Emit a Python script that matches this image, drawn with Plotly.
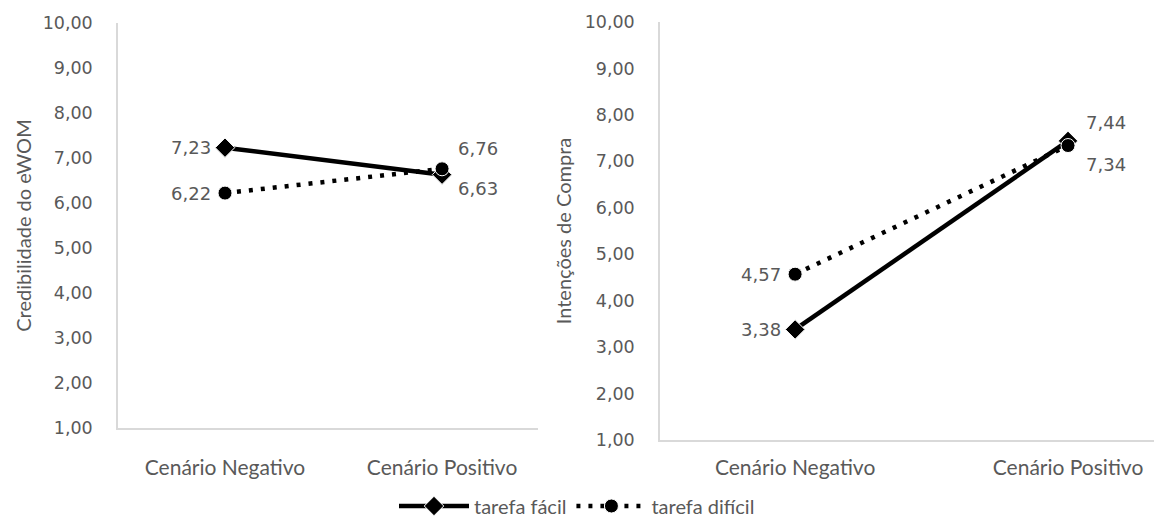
import plotly.graph_objects as go

# Scenario categories shared by both panels
cenarios = ["Cenário Negativo", "Cenário Positivo"]

# Panel 1: credibilidade do eWOM
cred_facil = [7.23, 6.63]
cred_dificil = [6.22, 6.76]

# Panel 2: intenções de compra
compra_facil = [3.38, 7.44]
compra_dificil = [4.57, 7.34]

y_ticks = [1, 2, 3, 4, 5, 6, 7, 8, 9, 10]

GRAY_TEXT = "#595959"
AXIS_LINE = "#d9d9d9"
NUM_FONT = "DejaVu Sans"
TXT_FONT = "Lato"


def fmt(v):
    return f"{v:.2f}".replace(".", ",")


fig = go.Figure()

panels = [
    ("x", "y", cred_facil, cred_dificil),
    ("x2", "y2", compra_facil, compra_dificil),
]

for i, (xa, ya, facil, dificil) in enumerate(panels):
    fig.add_trace(go.Scatter(
        x=cenarios, y=facil, xaxis=xa, yaxis=ya,
        mode="lines+markers", name="tarefa fácil",
        line=dict(color="black", width=4.5),
        marker=dict(symbol="diamond", size=15, color="black",
                    line=dict(color="white", width=1)),
        showlegend=(i == 0), legendgroup="facil",
    ))
    fig.add_trace(go.Scatter(
        x=cenarios, y=dificil, xaxis=xa, yaxis=ya,
        mode="lines+markers", name="tarefa difícil",
        line=dict(color="black", width=4.5, dash="4px,8px"),
        marker=dict(symbol="circle", size=14, color="black",
                    line=dict(color="white", width=1)),
        showlegend=(i == 0), legendgroup="dificil",
    ))

annotations = []


def label(xa, ya, x, y, xanchor, xshift, yshift):
    annotations.append(dict(
        x=x, y=y, xref=xa, yref=ya, text=fmt(y), showarrow=False,
        xanchor=xanchor, yanchor="middle", xshift=xshift, yshift=yshift,
        font=dict(family=NUM_FONT, size=18, color=GRAY_TEXT),
    ))


# Labels for panel 1
label("x", "y", cenarios[0], cred_facil[0], "right", -12, 0)
label("x", "y", cenarios[0], cred_dificil[0], "right", -12, 0)
label("x", "y", cenarios[1], cred_dificil[1], "left", 14, 20)
label("x", "y", cenarios[1], cred_facil[1], "left", 14, -14)

# Labels for panel 2
label("x2", "y2", cenarios[0], compra_dificil[0], "right", -12, 0)
label("x2", "y2", cenarios[0], compra_facil[0], "right", -12, 0)
label("x2", "y2", cenarios[1], compra_facil[1], "left", 16, 18)
label("x2", "y2", cenarios[1], compra_dificil[1], "left", 16, -19)

W, H = 1154, 522


def ydom(top_px, bottom_px):
    return [(H - bottom_px) / H, (H - top_px) / H]


common_y = dict(
    range=[1, 10], tickvals=y_ticks, tickformat=".2f", automargin=False,
    showgrid=False, zeroline=False, showline=True, linecolor=AXIS_LINE,
    linewidth=1.5, ticks="outside", ticklen=20, tickcolor="rgba(0,0,0,0)",
    tickfont=dict(family=NUM_FONT, size=17.5, color=GRAY_TEXT),
)
common_x = dict(
    type="category", showgrid=False, zeroline=False, showline=True,
    automargin=False, linecolor=AXIS_LINE, linewidth=1.5, ticks="outside",
    tickcolor="rgba(0,0,0,0)",
    tickfont=dict(family=TXT_FONT, size=21, color=GRAY_TEXT),
)

fig.update_layout(
    width=W, height=H,
    margin=dict(l=0, r=0, t=0, b=0, autoexpand=False),
    paper_bgcolor="white", plot_bgcolor="white",
    separators=",.",
    xaxis=dict(**common_x, domain=[118 / W, 538 / W], range=[-0.493, 1.442],
               ticklen=20, anchor="y"),
    yaxis=dict(**common_y, anchor="x", domain=ydom(23, 428),
               title=dict(text="Credibilidade do eWOM", standoff=6,
                          font=dict(family=TXT_FONT, size=20, color=GRAY_TEXT))),
    xaxis2=dict(**common_x, domain=[660 / W, 1.0], range=[-0.495, 1.315],
                ticklen=8, anchor="y2"),
    yaxis2=dict(**common_y, anchor="x2", domain=ydom(22, 440),
                title=dict(text="Intenções de Compra", standoff=8,
                           font=dict(family=TXT_FONT, size=20, color=GRAY_TEXT))),
    legend=dict(orientation="h", x=0.5, xanchor="center", y=(H - 506) / H,
                yanchor="middle", itemwidth=70,
                font=dict(family=TXT_FONT, size=20, color=GRAY_TEXT)),
    annotations=annotations,
    showlegend=True,
)

fig.write_html("out.html")
